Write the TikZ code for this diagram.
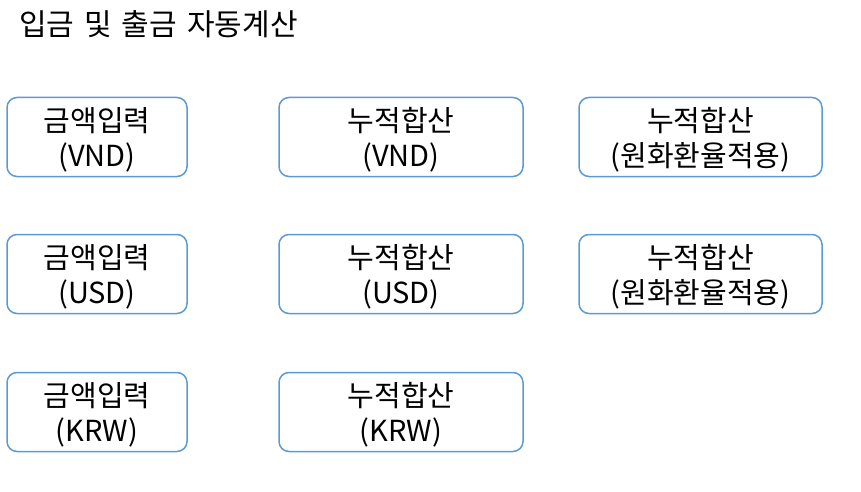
\documentclass[tikz,border=0pt]{standalone}
\usepackage{fontspec}
\setmainfont{Noto Sans CJK KR}
\definecolor{boxblue}{HTML}{5B9BD5}
\begin{document}
\begin{tikzpicture}[x=1pt,y=-1pt,
  cell/.style={draw=boxblue, line width=1.5pt, rounded corners=10pt, align=center,
    inner sep=0pt, font=\fontsize{29}{35}\selectfont},
  titletext/.style={anchor=west, inner sep=0pt, font=\fontsize{30}{32}\selectfont}]
\useasboundingbox (0,0) rectangle (861,492);
\node[titletext] (title) at (19,24) {입금\hspace{10pt}및\hspace{10pt}출금\hspace{10pt}자동계산};
% column A
\node[cell, minimum width=180pt, minimum height=79pt] (a1) at (97,137) {\rule{0pt}{30pt}금액입력\\(VND)};
\node[cell, minimum width=180pt, minimum height=79pt] (a2) at (97,274) {\rule{0pt}{30pt}금액입력\\(USD)};
\node[cell, minimum width=180pt, minimum height=79pt] (a3) at (97,412) {\rule{0pt}{30pt}금액입력\\(KRW)};
% column B
\node[cell, minimum width=244pt, minimum height=79pt] (b1) at (401,137) {\rule{0pt}{30pt}누적합산\\(VND)};
\node[cell, minimum width=244pt, minimum height=79pt] (b2) at (401,274) {\rule{0pt}{30pt}누적합산\\(USD)};
\node[cell, minimum width=244pt, minimum height=79pt] (b3) at (401,412) {\rule{0pt}{30pt}누적합산\\(KRW)};
% column C
\node[cell, minimum width=243pt, minimum height=79pt] (c1) at (700.5,137) {\rule{0pt}{30pt}누적합산\\(원화환율적용)};
\node[cell, minimum width=243pt, minimum height=79pt] (c2) at (700.5,274) {\rule{0pt}{30pt}누적합산\\(원화환율적용)};
\end{tikzpicture}
\end{document}
